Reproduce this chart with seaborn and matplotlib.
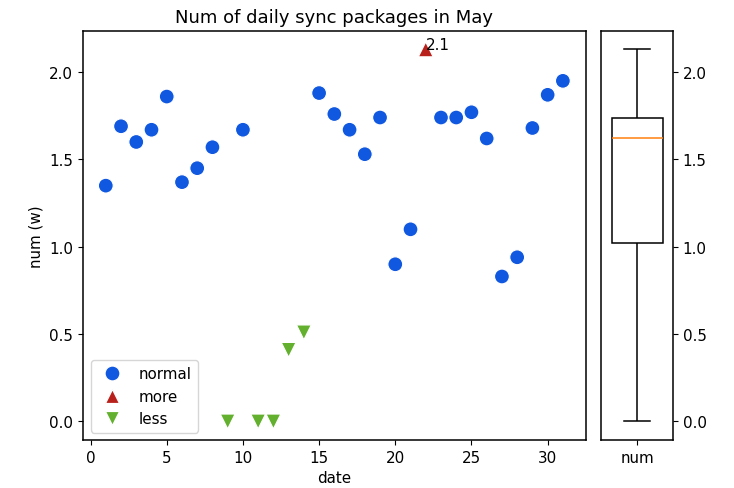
import matplotlib
matplotlib.use("Agg")
import matplotlib.pyplot as plt
import seaborn as sns
import pandas as pd

# Daily values (unit: w)
dates = [1, 2, 3, 4, 5, 6, 7, 8, 9, 10, 11, 12, 13, 14, 15, 16,
         17, 18, 19, 20, 21, 22, 23, 24, 25, 26, 27, 28, 29, 30, 31]
nums = [1.35, 1.69, 1.60, 1.67, 1.86, 1.37, 1.45, 1.57, 0.0, 1.67, 0.0, 0.0,
        0.41, 0.51, 1.88, 1.76, 1.67, 1.53, 1.74, 0.90, 1.10, 2.13, 1.74,
        1.74, 1.77, 1.62, 0.83, 0.94, 1.68, 1.87, 1.95]
kinds = ["normal"] * 8 + ["less", "normal", "less", "less", "less", "less"] + \
        ["normal"] * 7 + ["more"] + ["normal"] * 9

df = pd.DataFrame({"date": dates, "num": nums, "kind": kinds})

palette = {"normal": "#1158e0", "more": "#b8211b", "less": "#63b02e"}
markers = {"normal": "o", "more": "^", "less": "v"}

plt.rcParams["font.size"] = 10.9
plt.rcParams["axes.linewidth"] = 1.1

fig = plt.figure(figsize=(7.34, 4.89), dpi=100)
ax = fig.add_axes([0.113, 0.098, 0.685, 0.837])
ax2 = fig.add_axes([0.819, 0.098, 0.098, 0.837], sharey=ax)

sns.scatterplot(data=df, x="date", y="num", hue="kind", style="kind",
                hue_order=["normal", "more", "less"],
                style_order=["normal", "more", "less"],
                palette=palette, markers=markers, s=115, ax=ax)

# label the high point
top = df.loc[df["kind"] == "more"].iloc[0]
ax.text(top["date"], top["num"], f"{top['num']:.1f}")

handles, labels = ax.get_legend_handles_labels()
ax.legend(handles, labels, loc="lower left")
ax.set_title("Num of daily sync packages in May", fontsize=13)
ax.set_xlabel("date")
ax.set_ylabel("num (w)")
ax.set_xticks([0, 5, 10, 15, 20, 25, 30])
ax.set_xlim(-0.5, 32.5)

sns.boxplot(x=["num"] * len(nums), y=nums, ax=ax2, color="white",
            linecolor="black", linewidth=1.1, width=0.71,
            medianprops={"color": "#ff7f0e"})
ax2.yaxis.tick_right()
ax2.tick_params(axis="y", labelleft=False, labelright=True)
ax2.set_ylabel("")

fig.savefig("out.png", dpi=100)
